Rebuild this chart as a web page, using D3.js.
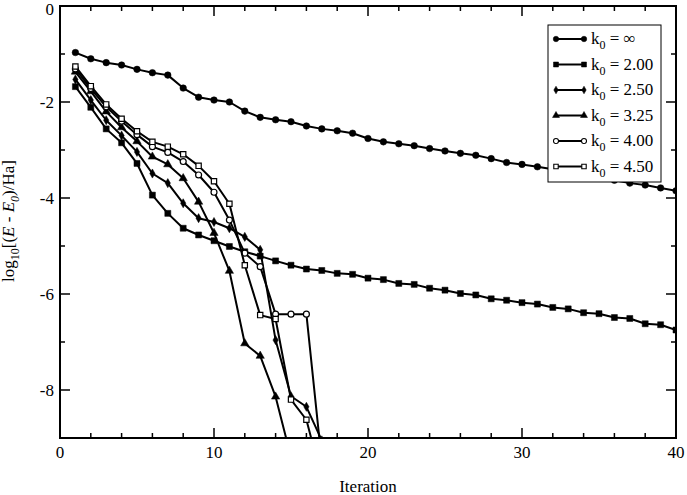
<!DOCTYPE html>
<html>
<head>
<meta charset="utf-8">
<script src="https://cdn.jsdelivr.net/npm/d3@7"></script>
<style>
  html, body { margin: 0; padding: 0; background: #fff; }
  svg { display: block; font-family: "Liberation Serif", "DejaVu Serif", serif; }
</style>
</head>
<body>
<svg id="chart" width="687" height="495"></svg>
<script>
// ---- Data ----
const iter40 = [1,2,3,4,5,6,7,8,9,10,11,12,13,14,15,16,17,18,19,20,
                21,22,23,24,25,26,27,28,29,30,31,32,33,34,35,36,37,38,39,40];
const iter17 = [1,2,3,4,5,6,7,8,9,10,11,12,13,14,15,16,17];
const iter15 = [1,2,3,4,5,6,7,8,9,10,11,12,13,14,15];

const kInf = [-0.97,-1.10,-1.18,-1.23,-1.32,-1.39,-1.44,-1.71,-1.90,-1.96,
              -2.00,-2.19,-2.32,-2.37,-2.41,-2.50,-2.56,-2.60,-2.65,-2.76,
              -2.83,-2.87,-2.91,-2.97,-3.02,-3.07,-3.11,-3.18,-3.26,-3.30,
              -3.35,-3.40,-3.45,-3.50,-3.56,-3.63,-3.69,-3.73,-3.79,-3.85];
const k200 = [-1.68,-2.11,-2.56,-2.85,-3.28,-3.94,-4.32,-4.63,-4.77,-4.89,
              -5.01,-5.12,-5.21,-5.31,-5.40,-5.48,-5.51,-5.57,-5.59,-5.67,
              -5.70,-5.78,-5.80,-5.88,-5.92,-5.99,-6.02,-6.10,-6.13,-6.18,
              -6.21,-6.28,-6.31,-6.39,-6.41,-6.49,-6.51,-6.62,-6.64,-6.75];
const k250 = [-1.53,-1.96,-2.38,-2.70,-3.04,-3.49,-3.69,-4.11,-4.42,-4.50,
              -4.63,-4.81,-5.08,-6.96,-8.13,-8.35,-9.05];
const k325 = [-1.37,-1.78,-2.20,-2.53,-2.82,-3.14,-3.30,-3.59,-4.08,-4.73,
              -5.52,-7.03,-7.29,-8.14,-9.40];
const k400 = [-1.31,-1.72,-2.10,-2.40,-2.68,-2.93,-3.05,-3.24,-3.52,-3.88,
              -4.46,-5.15,-5.43,-6.42,-6.42,-6.42,-9.50];
const k450 = [-1.26,-1.67,-2.05,-2.35,-2.61,-2.83,-2.93,-3.09,-3.33,-3.65,
              -4.12,-5.40,-6.44,-6.52,-8.20,-8.62,-9.85];

const seriesLabels = ["\u221e", "2.00", "2.50", "3.25", "4.00", "4.50"];
const xTickValues = [0, 10, 20, 30, 40];
const yTickValues = [0, -2, -4, -6, -8];

// ---- Layout ----
const svg = d3.select("#chart");
const L = 60, R = 676, T = 6, B = 438;
const x = d3.scaleLinear().domain([0, 40]).range([L, R]);
const y = d3.scaleLinear().domain([0, -9]).range([T, B]);

const series = [
  { xs: iter40, ys: kInf, sym: d3.symbolCircle,   size: 34, open: false, label: seriesLabels[0] },
  { xs: iter40, ys: k200, sym: d3.symbolSquare,   size: 36, open: false, label: seriesLabels[1] },
  { xs: iter17, ys: k250, sym: d3.symbolDiamond,  size: 24, open: false, label: seriesLabels[2] },
  { xs: iter15, ys: k325, sym: d3.symbolTriangle, size: 30, open: false, label: seriesLabels[3] },
  { xs: iter17, ys: k400, sym: d3.symbolCircle,   size: 28, open: true,  label: seriesLabels[4] },
  { xs: iter17, ys: k450, sym: d3.symbolSquare,   size: 28, open: true,  label: seriesLabels[5] }
];

svg.append("defs").append("clipPath").attr("id", "plotclip")
  .append("rect").attr("x", L).attr("y", T).attr("width", R - L).attr("height", B - T);

const plot = svg.append("g").attr("clip-path", "url(#plotclip)");
const line = d3.line().x(d => x(d[0])).y(d => y(d[1]));

series.forEach(s => {
  const pts = s.xs.map((v, i) => [v, s.ys[i]]);
  plot.append("path").datum(pts)
    .attr("d", line).attr("fill", "none")
    .attr("stroke", "#000").attr("stroke-width", 2).attr("stroke-linejoin", "round");
  plot.selectAll(null).data(pts).enter().append("path")
    .attr("transform", d => `translate(${x(d[0])},${y(d[1])})`)
    .attr("d", d3.symbol().type(s.sym).size(s.size))
    .attr("fill", s.open ? "#fff" : "#000")
    .attr("stroke", "#000").attr("stroke-width", s.open ? 1.2 : 0.5);
});

// ---- Frame and ticks ----
const axes = svg.append("g");
axes.append("rect").attr("x", L).attr("y", T).attr("width", R - L).attr("height", B - T)
  .attr("fill", "none").attr("stroke", "#000").attr("stroke-width", 2);

const xMinor = x.ticks(20).filter(v => xTickValues.indexOf(v) < 0);
const yMinor = d3.range(-9, 1).filter(v => yTickValues.indexOf(v) < 0);

function tick(x1, y1, x2, y2) {
  axes.append("line").attr("x1", x1).attr("y1", y1).attr("x2", x2).attr("y2", y2)
    .attr("stroke", "#000").attr("stroke-width", 1.5);
}
xTickValues.forEach(v => { tick(x(v), B, x(v), B - 10); tick(x(v), T, x(v), T + 10); });
xMinor.forEach(v => { tick(x(v), B, x(v), B - 5); tick(x(v), T, x(v), T + 5); });
yTickValues.forEach(v => { tick(L, y(v), L + 10, y(v)); tick(R, y(v), R - 10, y(v)); });
yMinor.forEach(v => { tick(L, y(v), L + 5, y(v)); tick(R, y(v), R - 5, y(v)); });

const fmt = v => (v < 0 ? "-" : "") + Math.abs(v);
axes.selectAll(null).data(xTickValues).enter().append("text")
  .attr("x", d => x(d)).attr("y", 458).attr("text-anchor", "middle")
  .attr("font-size", 17).text(fmt);
axes.selectAll(null).data(yTickValues).enter().append("text")
  .attr("x", 54).attr("y", d => Math.max(y(d) + 6, 15)).attr("text-anchor", "end")
  .attr("font-size", 17).text(fmt);

// Axis titles
svg.append("text").attr("x", 368).attr("y", 492).attr("text-anchor", "middle")
  .attr("font-size", 17).text("Iteration");

const yl = svg.append("text").attr("transform", "translate(14,221) rotate(-90)")
  .attr("text-anchor", "middle").attr("font-size", 17);
yl.append("tspan").text("log");
yl.append("tspan").attr("dy", 5).attr("font-size", 12).text("10");
yl.append("tspan").attr("dy", -5).text("[(");
yl.append("tspan").attr("font-style", "italic").text("E");
yl.append("tspan").text(" - ");
yl.append("tspan").attr("font-style", "italic").text("E");
yl.append("tspan").attr("dy", 5).attr("font-size", 12).attr("font-style", "italic").text("0");
yl.append("tspan").attr("dy", -5).text(")/Ha]");

// ---- Legend ----
const lg = svg.append("g");
lg.append("rect").attr("x", 548).attr("y", 25).attr("width", 113).attr("height", 157)
  .attr("fill", "#fff").attr("stroke", "#000").attr("stroke-width", 1);
series.forEach((s, i) => {
  const cy = 39 + i * 25.5;
  lg.append("line").attr("x1", 556).attr("x2", 584).attr("y1", cy).attr("y2", cy)
    .attr("stroke", "#000").attr("stroke-width", 2);
  [556, 584].forEach(cx => {
    lg.append("path").attr("transform", `translate(${cx},${cy})`)
      .attr("d", d3.symbol().type(s.sym).size(s.size * 0.7))
      .attr("fill", s.open ? "#fff" : "#000")
      .attr("stroke", "#000").attr("stroke-width", s.open ? 1.1 : 0.5);
  });
  const t = lg.append("text").attr("x", 591).attr("y", cy + 5).attr("font-size", 17);
  t.append("tspan").text("k");
  t.append("tspan").attr("dy", 5).attr("font-size", 12).text("0");
  t.append("tspan").attr("dy", -5).text(" = " + s.label);
});
</script>
</body>
</html>
